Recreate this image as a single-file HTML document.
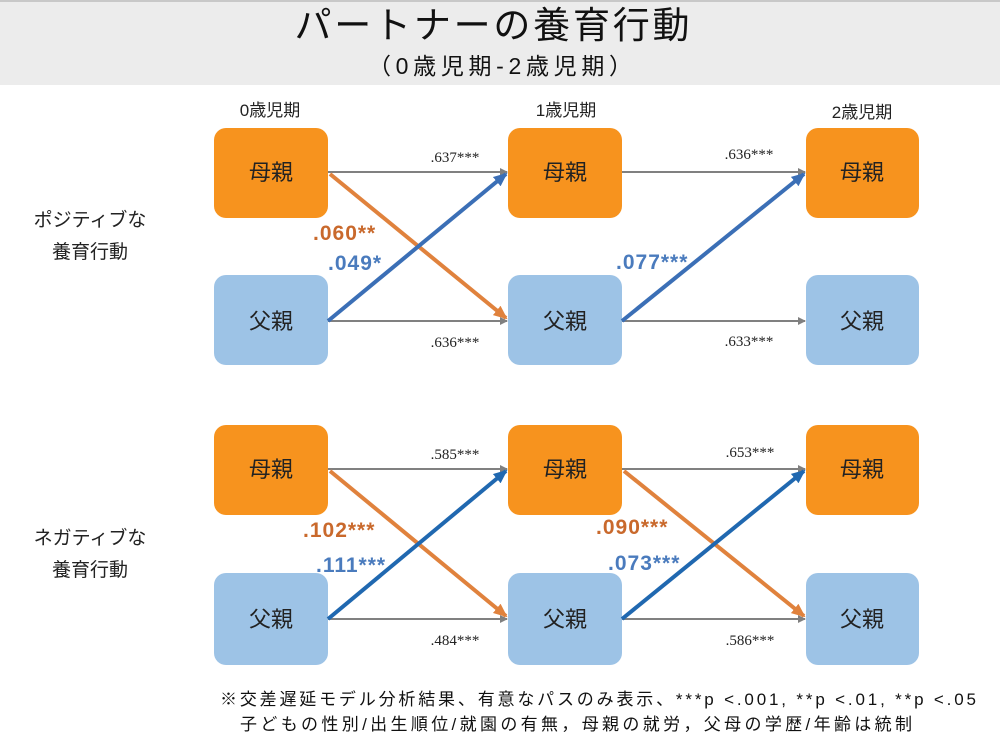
<!DOCTYPE html>
<html><head><meta charset="utf-8"><style>
body{margin:0;width:1000px;height:750px;background:#fff;overflow:hidden}
text{font-family:"Liberation Sans","Noto Sans CJK JP",sans-serif}
text.sf{font-family:"Liberation Serif",serif}
</style></head><body>
<svg width="1000" height="750" viewBox="0 0 1000 750" xmlns="http://www.w3.org/2000/svg">
<defs>
<marker id="ag" markerWidth="8" markerHeight="8" refX="7" refY="4" orient="auto" markerUnits="userSpaceOnUse"><path d="M0,0L8,4L0,8z" fill="#808080"/></marker>
<marker id="ao" markerWidth="14" markerHeight="12" refX="12" refY="6" orient="auto" markerUnits="userSpaceOnUse"><path d="M0,0L14,6L0,12z" fill="#e0823d"/></marker>
<marker id="ab" markerWidth="14" markerHeight="12" refX="12" refY="6" orient="auto" markerUnits="userSpaceOnUse"><path d="M0,0L14,6L0,12z" fill="#3b6fb6"/></marker>
<marker id="ab2" markerWidth="14" markerHeight="12" refX="12" refY="6" orient="auto" markerUnits="userSpaceOnUse"><path d="M0,0L14,6L0,12z" fill="#2068b0"/></marker>
</defs>
<rect x="0" y="0" width="1000" height="85" fill="#ececec"/>
<rect x="0" y="0" width="1000" height="2" fill="#c8c8c8"/>
<text x="492" y="38" font-size="37" text-anchor="middle" textLength="395" fill="#111">パートナーの養育行動</text>
<text x="500" y="74" font-size="23" text-anchor="middle" textLength="264" fill="#111">（0歳児期-2歳児期）</text>

<g font-size="17" fill="#222" text-anchor="middle">
<text x="270" y="116">0歳児期</text>
<text x="566" y="116">1歳児期</text>
<text x="862" y="118">2歳児期</text>
</g>
<g font-size="19" fill="#222" text-anchor="middle">
<text x="90" y="226">ポジティブな</text>
<text x="90" y="258">養育行動</text>
<text x="90" y="544">ネガティブな</text>
<text x="90" y="576">養育行動</text>
</g>

<g stroke="#808080" stroke-width="2" marker-end="url(#ag)">
<line x1="328" y1="172" x2="507" y2="172"/>
<line x1="328" y1="321" x2="507" y2="321"/>
<line x1="622" y1="172" x2="805" y2="172"/>
<line x1="622" y1="321" x2="805" y2="321"/>
<line x1="328" y1="469" x2="507" y2="469"/>
<line x1="328" y1="619" x2="507" y2="619"/>
<line x1="622" y1="469" x2="805" y2="469"/>
<line x1="622" y1="619" x2="805" y2="619"/>
</g>

<g>
<rect x="214" y="128" width="114" height="90" rx="12" fill="#f7931e"/>
<rect x="508" y="128" width="114" height="90" rx="12" fill="#f7931e"/>
<rect x="806" y="128" width="113" height="90" rx="12" fill="#f7931e"/>
<rect x="214" y="275" width="114" height="90" rx="12" fill="#9dc3e6"/>
<rect x="508" y="275" width="114" height="90" rx="12" fill="#9dc3e6"/>
<rect x="806" y="275" width="113" height="90" rx="12" fill="#9dc3e6"/>
<rect x="214" y="425" width="114" height="90" rx="12" fill="#f7931e"/>
<rect x="508" y="425" width="114" height="90" rx="12" fill="#f7931e"/>
<rect x="806" y="425" width="113" height="90" rx="12" fill="#f7931e"/>
<rect x="214" y="573" width="114" height="92" rx="12" fill="#9dc3e6"/>
<rect x="508" y="573" width="114" height="92" rx="12" fill="#9dc3e6"/>
<rect x="806" y="573" width="113" height="92" rx="12" fill="#9dc3e6"/>
</g>
<g font-size="22" fill="#222" text-anchor="middle">
<text x="271" y="180">母親</text><text x="565" y="180">母親</text><text x="862" y="180">母親</text>
<text x="271" y="329">父親</text><text x="565" y="329">父親</text><text x="862" y="329">父親</text>
<text x="271" y="477">母親</text><text x="565" y="477">母親</text><text x="862" y="477">母親</text>
<text x="271" y="627">父親</text><text x="565" y="627">父親</text><text x="862" y="627">父親</text>
</g>

<g stroke-width="4" fill="none">
<line x1="330" y1="174" x2="506" y2="318" stroke="#e0823d" marker-end="url(#ao)"/>
<line x1="328" y1="321" x2="506" y2="174" stroke="#3b6fb6" marker-end="url(#ab)"/>
<line x1="622" y1="321" x2="804" y2="174" stroke="#3b6fb6" marker-end="url(#ab)"/>
<line x1="330" y1="471" x2="506" y2="616" stroke="#e0823d" marker-end="url(#ao)"/>
<line x1="328" y1="619" x2="506" y2="471" stroke="#2068b0" marker-end="url(#ab2)"/>
<line x1="624" y1="471" x2="804" y2="616" stroke="#e0823d" marker-end="url(#ao)"/>
<line x1="622" y1="619" x2="804" y2="471" stroke="#2068b0" marker-end="url(#ab2)"/>
</g>

<g font-size="15" fill="#222" text-anchor="middle">
<text class="sf" x="455" y="162">.637***</text>
<text class="sf" x="455" y="347">.636***</text>
<text class="sf" x="749" y="159">.636***</text>
<text class="sf" x="749" y="346">.633***</text>
<text class="sf" x="455" y="459">.585***</text>
<text class="sf" x="455" y="645">.484***</text>
<text class="sf" x="750" y="457">.653***</text>
<text class="sf" x="750" y="645">.586***</text>
</g>
<g font-size="21" font-weight="bold" letter-spacing="1">
<text x="313" y="240" fill="#c9692c">.060**</text>
<text x="328" y="270" fill="#4a7bbd">.049*</text>
<text x="616" y="269" fill="#4a7bbd">.077***</text>
<text x="303" y="537" fill="#c9692c">.102***</text>
<text x="316" y="572" fill="#4a7bbd">.111***</text>
<text x="596" y="534" fill="#c9692c">.090***</text>
<text x="608" y="570" fill="#4a7bbd">.073***</text>
</g>

<g font-size="17" fill="#111">
<text x="220" y="705" textLength="756">※交差遅延モデル分析結果、有意なパスのみ表示、***p &lt;.001, **p &lt;.01, **p &lt;.05</text>
<text x="240" y="730" textLength="672">子どもの性別/出生順位/就園の有無，母親の就労，父母の学歴/年齢は統制</text>
</g>
</svg>
</body></html>
